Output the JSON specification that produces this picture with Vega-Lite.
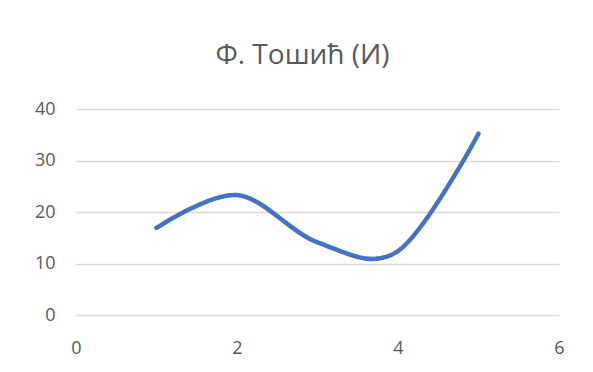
{
  "$schema": "https://vega.github.io/schema/vega-lite/v6.json",
  "autosize": {"type": "none"},
  "padding": {"left": 76, "top": 109, "right": 34, "bottom": 57},
  "width": 483,
  "height": 206,
  "background": "white",
  "title": {
    "text": "Ф. Тошић (И)",
    "font": "Open Sans",
    "fontSize": 28,
    "fontWeight": "normal",
    "color": "#595959",
    "anchor": "middle",
    "offset": 30,
    "dx": -15
  },
  "config": {
    "view": {"stroke": null},
    "axis": {
      "labelFont": "Open Sans",
      "labelFontSize": 18,
      "labelColor": "#595959",
      "domain": false,
      "ticks": false
    }
  },
  "data": {
    "values": [
      {"x": 1, "y": 16.9},
      {"x": 2, "y": 23.3},
      {"x": 3, "y": 14.1},
      {"x": 4, "y": 12.4},
      {"x": 5, "y": 35.2}
    ]
  },
  "mark": {"type": "line", "interpolate": "cardinal", "color": "#4472C4", "strokeWidth": 4.5, "strokeCap": "round"},
  "encoding": {
    "x": {
      "field": "x", "type": "quantitative",
      "scale": {"domain": [0, 6], "nice": false},
      "axis": {"values": [0, 2, 4, 6], "grid": false, "title": null, "labelPadding": 24, "labelFlush": false}
    },
    "y": {
      "field": "y", "type": "quantitative",
      "scale": {"domain": [0, 40], "nice": false},
      "axis": {"values": [0, 10, 20, 30, 40], "title": null, "gridColor": "#d9d9d9", "gridWidth": 1.5, "labelPadding": 21}
    }
  }
}
